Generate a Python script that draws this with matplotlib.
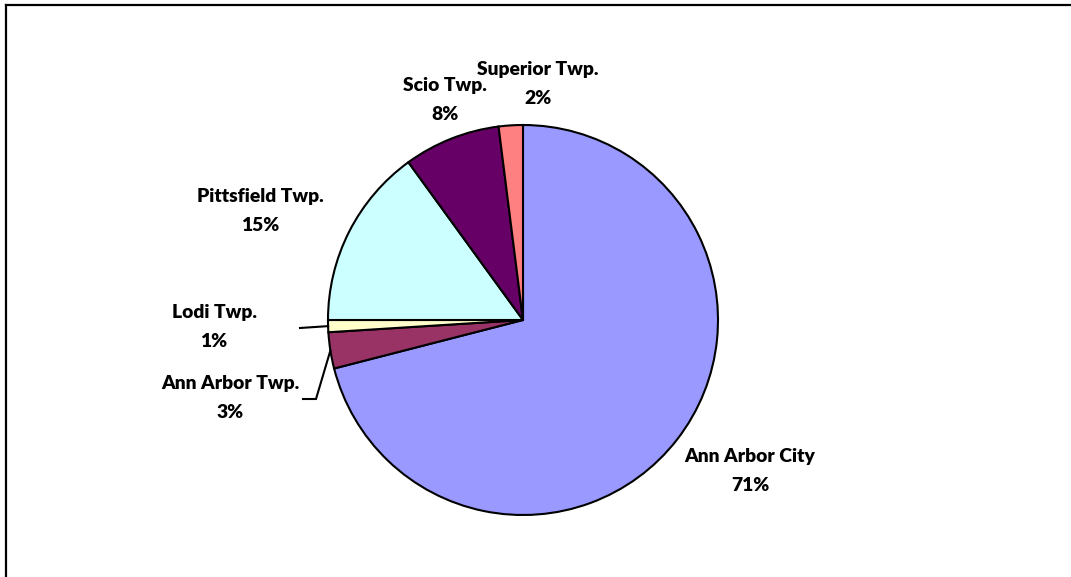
import numpy as np
import matplotlib
matplotlib.use("Agg")
import matplotlib.pyplot as plt
from matplotlib.lines import Line2D

# Share of total by municipality
municipalities = ["Ann Arbor City", "Ann Arbor Twp.", "Lodi Twp.",
                  "Pittsfield Twp.", "Scio Twp.", "Superior Twp."]
shares = [71, 3, 1, 15, 8, 2]
colors = ["#9999FF", "#993366", "#FFFFCC", "#CCFFFF", "#660066", "#FF8080"]

W, H = 1071, 577
fig = plt.figure(figsize=(W / 100, H / 100), dpi=100)
ax = fig.add_axes([0, 0, 1, 1])

cx, cy, R = 523, H - 320, 195
wedges, _ = ax.pie(shares, colors=colors, startangle=90, counterclock=False,
                   center=(cx, cy), radius=R, frame=True,
                   wedgeprops=dict(edgecolor="black", linewidth=1.5))
ax.set_xlim(0, W)
ax.set_ylim(0, H)
ax.set_axis_off()

# label centres (pixels from top-left) and whether a leader line is drawn
label_pos = [(750, 471), (230, 398), (214, 327), (260, 211), (445, 100), (538, 84)]
leader = [False, True, True, False, False, False]

font = dict(family=["Lato", "DejaVu Sans"], fontweight="heavy", fontsize=13.9,
            color="black", ha="center", va="center")
total = sum(shares)
for w, name, val, (lx, ly), has_line in zip(wedges, municipalities, shares,
                                             label_pos, leader):
    ty = H - ly
    ax.text(lx, ty, f"{name}\n{round(100 * val / total)}%", linespacing=1.8, **font)
    if has_line:
        mid = np.deg2rad((w.theta1 + w.theta2) / 2)
        ex, ey = cx + R * np.cos(mid), cy + R * np.sin(mid)
        hx = lx + 73 if name.startswith("Ann") else lx + 86
        hy = ty - 1
        kx = hx + (13 if name.startswith("Ann") else 0)
        ax.plot([hx, kx, ex], [hy, hy, ey], color="black", linewidth=1.5,
                solid_joinstyle="miter")

# chart area border (top and left edges)
fig.add_artist(Line2D([5.5 / W, 1], [1 - 5 / H, 1 - 5 / H], color="black",
                      linewidth=1.6, transform=fig.transFigure))
fig.add_artist(Line2D([5.5 / W, 5.5 / W], [0, 1 - 5 / H], color="black",
                      linewidth=1.6, transform=fig.transFigure))

fig.savefig("out.png", dpi=100, facecolor="white")
